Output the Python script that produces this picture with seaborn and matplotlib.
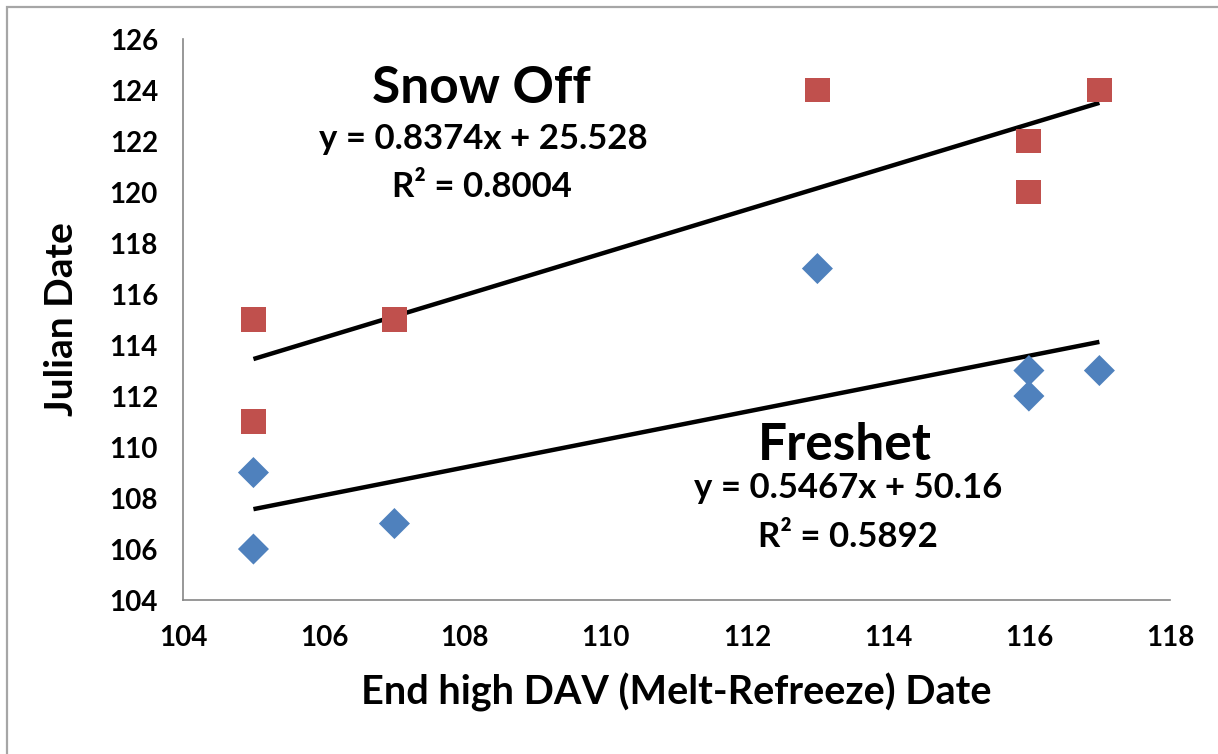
import pandas as pd
import matplotlib.pyplot as plt
import matplotlib.patches as mpatches
import seaborn as sns

# data
x_dates = [105, 105, 107, 113, 116, 116, 117]
snow_off = [115, 111, 115, 124, 122, 120, 124]
freshet = [109, 106, 107, 117, 113, 112, 113]
snow_eq = "y = 0.8374x + 25.528"
snow_r2 = "R² = 0.8004"
fresh_eq = "y = 0.5467x + 50.16"
fresh_r2 = "R² = 0.5892"
x_ticks = [104, 106, 108, 110, 112, 114, 116, 118]
y_ticks = [104, 106, 108, 110, 112, 114, 116, 118, 120, 122, 124, 126]

df = pd.DataFrame({'x': x_dates * 2,
                   'y': freshet + snow_off,
                   'series': ['Freshet'] * 7 + ['Snow Off'] * 7})

sns.set_style('white')
plt.rcParams['font.family'] = ['Lato', 'DejaVu Sans']
plt.rcParams['font.weight'] = 'bold'
plt.rcParams['text.color'] = 'black'
plt.rcParams['axes.labelcolor'] = 'black'
plt.rcParams['xtick.labelcolor'] = 'black'
plt.rcParams['ytick.labelcolor'] = 'black'

fig = plt.figure(figsize=(12.18, 7.54), dpi=100)
ax = fig.add_axes([0.1502, 0.2042, 0.8103, 0.7440])

# outer chart border (Excel frame)
fig.patches.append(mpatches.Rectangle((7 / 1218, -0.1), 1.2, 1.1 - 7 / 754,
                                      transform=fig.transFigure, fill=False,
                                      edgecolor='#a6a6a6', linewidth=1.6))

blue = '#4f81bd'
red = '#c0504d'

# trend lines (least squares over the data range)
sns.regplot(data=df[df.series == 'Snow Off'], x='x', y='y', ci=None, scatter=False,
            ax=ax, line_kws={'color': 'black', 'lw': 3.2, 'solid_capstyle': 'butt'})
sns.regplot(data=df[df.series == 'Freshet'], x='x', y='y', ci=None, scatter=False,
            ax=ax, line_kws={'color': 'black', 'lw': 3.2, 'solid_capstyle': 'butt'})

sns.scatterplot(data=df[df.series == 'Freshet'], x='x', y='y', marker='D', s=250,
                color=blue, edgecolor='none', ax=ax, zorder=3)
sns.scatterplot(data=df[df.series == 'Snow Off'], x='x', y='y', marker='s', s=320,
                color=red, edgecolor='none', ax=ax, zorder=3)

ax.set_xlim(104, 118)
ax.set_ylim(104, 126)
ax.set_xticks(x_ticks)
ax.set_yticks(y_ticks)
ax.tick_params(axis='both', direction='out', length=6, width=1.2, color='#868686',
               labelsize=20, pad=12)
for lab in ax.get_xticklabels() + ax.get_yticklabels():
    lab.set_fontweight('bold')

for side in ['top', 'right']:
    ax.spines[side].set_visible(False)
for side in ['left', 'bottom']:
    ax.spines[side].set_color('#868686')
    ax.spines[side].set_linewidth(1.2)

ax.set_xlabel('End high DAV (Melt-Refreeze) Date', fontsize=28.5, fontweight='bold', labelpad=16)
ax.set_ylabel('Julian Date', fontsize=28, fontweight='bold', labelpad=22)

# series labels and trend equations
ax.text(108.24, 123.49, 'Snow Off', fontsize=37, fontweight='bold', ha='center', va='baseline')
ax.text(108.26, 121.69, snow_eq, fontsize=25, fontweight='bold', ha='center', va='baseline')
ax.text(108.24, 119.80, snow_r2, fontsize=25, fontweight='bold', ha='center', va='baseline')
ax.text(113.39, 109.49, 'Freshet', fontsize=37, fontweight='bold', ha='center', va='baseline')
ax.text(113.43, 108.00, fresh_eq, fontsize=25, fontweight='bold', ha='center', va='baseline')
ax.text(113.43, 106.08, fresh_r2, fontsize=25, fontweight='bold', ha='center', va='baseline')

plt.savefig('out.png', dpi=100)
